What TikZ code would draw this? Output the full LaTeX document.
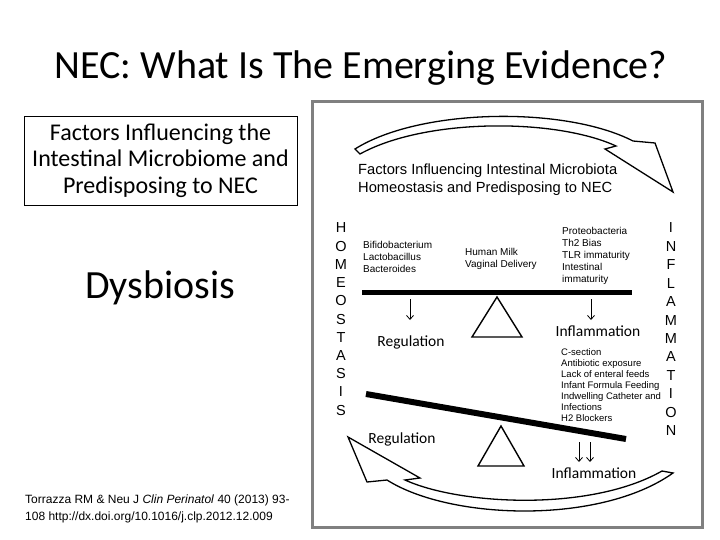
\documentclass[tikz,border=0pt]{standalone}
\usepackage{fontspec}
\setmainfont{Carlito}
\newfontfamily\arialf{Liberation Sans}
\usetikzlibrary{arrows.meta}
\definecolor{framegray}{RGB}{128,128,128}
\tikzset{
  ftext/.style={inner sep=0pt, anchor=base west, font=\arialf\fontsize{10}{12}\selectfont},
  ltext/.style={inner sep=0pt, anchor=base west, font=\arialf\fontsize{9.5}{11}\selectfont},
  vlet/.style={inner sep=0pt, anchor=base, font=\arialf\fontsize{14.5}{16}\selectfont},
  clab/.style={inner sep=0pt, anchor=base, font=\fontsize{15.5}{18}\selectfont},
  beam/.style={line width=5pt},
  fulcrum/.style={line width=1.4pt, line join=miter},
  bigarrow/.style={line width=1.3pt, fill=white, line join=miter},
  darrow/.style={line width=0.8pt, -{Straight Barb[length=4pt,width=7pt]}}
}
\begin{document}
\begin{tikzpicture}[x=1pt,y=-1pt]
\useasboundingbox (0,0) rectangle (720,540);
% title
\node[inner sep=0pt, anchor=base] (title) at (361,79) {\fontsize{40}{48}\selectfont NEC: What Is The Emerging Evidence?};
% left box
\node[draw, line width=0.8pt, minimum width=273pt, minimum height=89pt, inner sep=0pt, align=center,
  font=\fontsize{24}{26.5}\selectfont] (box) at (160.5,160.5) {Factors Influencing the\\Intestinal Microbiome and\\Predisposing to NEC};
\node[inner sep=0pt, anchor=base] (dys) at (160,298) {\fontsize{40}{48}\selectfont Dysbiosis};
% citation
\node[inner sep=0pt, anchor=base west, font=\arialf\fontsize{12}{14}\selectfont] (cit1) at (25,503) {Torrazza RM \& Neu J \textit{Clin Perinatol} 40 (2013) 93-};
\node[inner sep=0pt, anchor=base west, font=\arialf\fontsize{12}{14}\selectfont] (cit2) at (25,520) {108 http://dx.doi.org/10.1016/j.clp.2012.12.009};
% frame
\draw[line width=3pt, framegray] (312.5,101.5) rectangle (702.5,527.5);
% top curved arrow
\draw[bigarrow] (355,149) .. controls (420,108) and (565,106) .. (633,141)
  -- (655,143) -- (673,192) -- (605,149) -- (616,146)
  .. controls (555,118) and (425,118) .. (360,154) -- cycle;
\node[inner sep=0pt, anchor=base west, font=\arialf\fontsize{14.7}{17.5}\selectfont] (ft1) at (358,175) {Factors Influencing Intestinal Microbiota};
\node[inner sep=0pt, anchor=base west, font=\arialf\fontsize{14.7}{17.5}\selectfont] (ft2) at (358,193) {Homeostasis and Predisposing to NEC};
% vertical words
\foreach \c [count=\i from 0] in {H,O,M,E,O,S,T,A,S,I,S}
  \node[vlet] (h\i) at (341,{233+18.2*\i}) {\c};
\foreach \c [count=\i from 0] in {I,N,F,L,A,M,M,A,T,I,O,N}
  \node[vlet] (n\i) at (671,{233+18.4*\i}) {\c};
% top seesaw
\node[ftext] (b1) at (363,248.5) {Bifidobacterium};
\node[ftext] (b2) at (363,260.5) {Lactobacillus};
\node[ftext] (b3) at (363,272.5) {Bacteroides};
\node[ftext] (m1) at (465,255.5) {Human Milk};
\node[ftext] (m2) at (465,267.5) {Vaginal Delivery};
\node[ftext] (p1) at (562,234.5) {Proteobacteria};
\node[ftext] (p2) at (562,246.5) {Th2 Bias};
\node[ftext] (p3) at (562,258.5) {TLR immaturity};
\node[ftext] (p4) at (562,270.5) {Intestinal};
\node[ftext] (p5) at (562,282.5) {immaturity};
\coordinate (beam1l) at (362,292);
\coordinate (beam1r) at (632,292);
\draw[beam] (beam1l) -- (beam1r);
\coordinate (t1a) at (497,297);
\coordinate (t1b) at (472,337);
\coordinate (t1c) at (522,337);
\draw[fulcrum] (t1a) -- (t1b) -- (t1c) -- cycle;
\coordinate (da1) at (410,299);
\coordinate (da1e) at (410,320);
\coordinate (da2) at (591,299);
\coordinate (da2e) at (591,320);
\draw[darrow] (da1) -- (da1e);
\draw[darrow] (da2) -- (da2e);
\node[clab] (reg1) at (411,346) {Regulation};
\node[clab] (inf1) at (598,336) {Inflammation};
% bottom seesaw
\node[ltext] (c1) at (561,355.5) {C-section};
\node[ltext] (c2) at (561,366.5) {Antibiotic exposure};
\node[ltext] (c3) at (561,377.5) {Lack of enteral feeds};
\node[ltext] (c4) at (561,388.5) {Infant Formula Feeding};
\node[ltext] (c5) at (561,399.5) {Indwelling Catheter and};
\node[ltext] (c6) at (561,410.5) {Infections};
\node[ltext] (c7) at (561,421.5) {H2 Blockers};
\coordinate (beam2l) at (366,394);
\coordinate (beam2r) at (626,439);
\draw[beam, line width=6pt] (beam2l) -- (beam2r);
\coordinate (t2a) at (501,426);
\coordinate (t2b) at (478,466);
\coordinate (t2c) at (524,466);
\draw[fulcrum] (t2a) -- (t2b) -- (t2c) -- cycle;
\coordinate (dd1) at (579,442);
\coordinate (dd1e) at (579,462);
\coordinate (dd2) at (590,442);
\coordinate (dd2e) at (590,462);
\draw[darrow] (dd1) -- (dd1e);
\draw[darrow] (dd2) -- (dd2e);
\node[clab] (reg2) at (402,443) {Regulation};
\node[clab] (inf2) at (594,478) {Inflammation};
% bottom curved arrow
\draw[bigarrow] (348,437) -- (367,482) -- (387,480)
  .. controls (450,520) and (600,525) .. (673,473)
  -- (662,471)
  .. controls (590,512) and (460,505) .. (405,480)
  -- (420,478) -- cycle;
\end{tikzpicture}
\end{document}
